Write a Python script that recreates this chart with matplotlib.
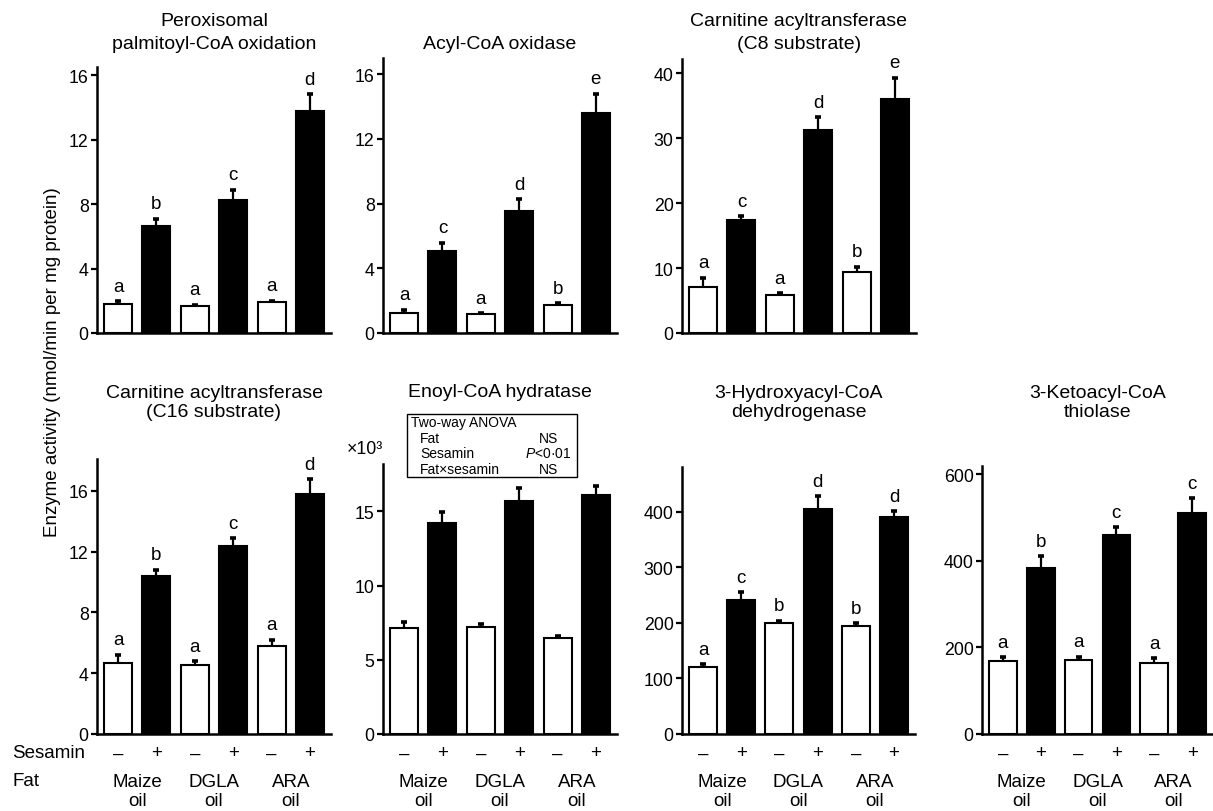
import numpy as np
import matplotlib
matplotlib.use("Agg")
import matplotlib.pyplot as plt
from matplotlib.patches import Rectangle

plt.rcParams['font.family'] = ['Liberation Sans', 'DejaVu Sans']
plt.rcParams['mathtext.fontset'] = 'custom'
plt.rcParams['mathtext.rm'] = 'Liberation Sans'
plt.rcParams['mathtext.it'] = 'Liberation Sans:italic'

# ---------------- data ----------------
sesamin_labels = ["\u2013", "+", "\u2013", "+", "\u2013", "+"]
fat_labels = ["Maize\noil", "DGLA\noil", "ARA\noil"]

titles = [
    "Peroxisomal\npalmitoyl-CoA oxidation",
    "Acyl-CoA oxidase",
    "Carnitine acyltransferase\n(C8 substrate)",
    "Carnitine acyltransferase\n(C16 substrate)",
    "Enoyl-CoA hydratase",
    "3-Hydroxyacyl-CoA\ndehydrogenase",
    "3-Ketoacyl-CoA\nthiolase",
]

perox_vals = [1.8, 6.63, 1.7, 8.26, 1.9, 13.8]
perox_err = [0.19, 0.47, 0.06, 0.64, 0.1, 1.0]
perox_let = ["a", "b", "a", "c", "a", "d"]

acox_vals = [1.26, 5.06, 1.16, 7.55, 1.74, 13.6]
acox_err = [0.17, 0.52, 0.06, 0.73, 0.11, 1.2]
acox_let = ["a", "c", "a", "d", "b", "e"]

cat8_vals = [7.06, 17.45, 5.82, 31.2, 9.47, 36.0]
cat8_err = [1.48, 0.5, 0.3, 2.05, 0.73, 3.3]
cat8_let = ["a", "c", "a", "d", "b", "e"]

cat16_vals = [4.65, 10.4, 4.56, 12.39, 5.79, 15.77]
cat16_err = [0.57, 0.4, 0.22, 0.48, 0.41, 1.0]
cat16_let = ["a", "b", "a", "c", "a", "d"]

enoyl_vals = [7.17, 14.2, 7.2, 15.7, 6.45, 16.08]   # x 10^3
enoyl_err = [0.36, 0.75, 0.22, 0.87, 0.18, 0.67]
enoyl_let = None

hadh_vals = [120, 241, 200, 405, 195, 391]
hadh_err = [6, 14, 4, 23, 5, 10]
hadh_let = ["a", "c", "b", "d", "b", "d"]

thio_vals = [169, 383, 171, 460, 163, 510]
thio_err = [8, 27, 8, 17, 12, 34]
thio_let = ["a", "b", "a", "c", "a", "c"]

yticks = [
    [0, 4, 8, 12, 16],
    [0, 4, 8, 12, 16],
    [0, 10, 20, 30, 40],
    [0, 4, 8, 12, 16],
    [0, 5, 10, 15],
    [0, 100, 200, 300, 400],
    [0, 200, 400, 600],
]
ymaxs = [16.5, 17.0, 42.2, 18.1, 18.2, 481, 619]

panels = [
    (perox_vals, perox_err, perox_let),
    (acox_vals, acox_err, acox_let),
    (cat8_vals, cat8_err, cat8_let),
    (cat16_vals, cat16_err, cat16_let),
    (enoyl_vals, enoyl_err, enoyl_let),
    (hadh_vals, hadh_err, hadh_let),
    (thio_vals, thio_err, thio_let),
]

# ---------------- layout (pixels) ----------------
W, H = 1213, 812
fig = plt.figure(figsize=(W / 100, H / 100), dpi=100)

# left, right, top, bottom(zero line)
boxes = [
    (97, 331, 68, 334),
    (383, 617, 59, 334),
    (682, 916, 60, 334),
    (97, 331, 460, 735),
    (383, 617, 465, 735),
    (682, 915, 468, 735),
    (982, 1213, 467, 735),
]
title_bottom = [53, 53, 53, 421, 401, 421, 421]
title_ls = [1.45, 1.45, 1.45, 1.15, 1.15, 1.15, 1.15]

FS = 13.5
TITFS = 14.0
TFS = 12.8

x = np.arange(6)
colors = ["white", "black"] * 3

axes = []
for i, ((l, r, t, b), (vals, errs, lets)) in enumerate(zip(boxes, panels)):
    ax = fig.add_axes([l / W, (H - b) / H, (r - l) / W, (b - t) / H])
    axes.append(ax)
    vals = np.array(vals, float)
    errs = np.array(errs, float)
    ax.bar(x, vals, width=0.73, color=colors, edgecolor="black", linewidth=1.5, zorder=2)
    ax.vlines(x, vals, vals + errs, color="black", lw=1.6, zorder=3)
    ax.plot(x, vals + errs, ls="none", marker="_", ms=4.5, mew=2.6, color="black", zorder=3)
    if lets is not None:
        for xi, top, lt in zip(x, vals + errs, lets):
            ax.annotate(lt, (xi, top), xytext=(0, 7.5), textcoords="offset points",
                        ha="center", va="baseline", fontsize=FS, annotation_clip=False)
    ax.set_xlim(-0.55, 5.55)
    ax.set_ylim(0, ymaxs[i])
    ax.set_yticks(yticks[i])
    ax.set_xticks([])
    for s in ["top", "right"]:
        ax.spines[s].set_visible(False)
    for s in ["left", "bottom"]:
        ax.spines[s].set_linewidth(1.8)
    ax.tick_params(axis="y", direction="out", length=4, width=1.6, labelsize=TFS, pad=2)
    ax.set_facecolor("none")
    # title
    fig.text((l + r) / 2 / W, (H - title_bottom[i]) / H, titles[i], ha="center",
             va="bottom", fontsize=TITFS, linespacing=title_ls[i])
    # bottom labels
    if i >= 3:
        tr = ax.get_xaxis_transform()
        for xi, s in zip(x, sesamin_labels):
            ax.text(xi, -19 / (b - t), s, transform=tr, ha="center", va="center", fontsize=FS)
        for k, fl in enumerate(fat_labels):
            ax.text(2 * k + 0.5, -39 / (b - t), fl, transform=tr, ha="center", va="top",
                    fontsize=FS, linespacing=1.12)

fig.text(12 / W, (H - 754) / H, "Sesamin", ha="left", va="center", fontsize=FS)
fig.text(12 / W, (H - 782) / H, "Fat", ha="left", va="center", fontsize=FS)

fig.text(53 / W, (H - 362) / H, "Enzyme activity (nmol/min per mg protein)", rotation=90,
         ha="center", va="center", fontsize=FS)

# x10^3
fig.text(347 / W, (H - 450) / H, "\u00d710\u00b3", ha="left", va="center", fontsize=TFS)

# ANOVA box
fig.patches.append(Rectangle((407 / W, (H - 478) / H), 170 / W, 63 / H, transform=fig.transFigure,
                             fill=False, edgecolor="black", linewidth=1.0))
afs = 10
fig.text(411 / W, (H - 423) / H, "Two-way ANOVA", ha="left", va="center", fontsize=afs)
rows = [("Fat", "NS"), ("Sesamin", "$P$<0\u00b701"), ("Fat\u00d7sesamin", "NS")]
for k, (a, bb) in enumerate(rows):
    yy = (H - (439 + 15.5 * k)) / H
    fig.text(420 / W, yy, a, ha="left", va="center", fontsize=afs)
    fig.text(548 / W, yy, bb, ha="center", va="center", fontsize=afs)

fig.savefig("out.png", dpi=100)
